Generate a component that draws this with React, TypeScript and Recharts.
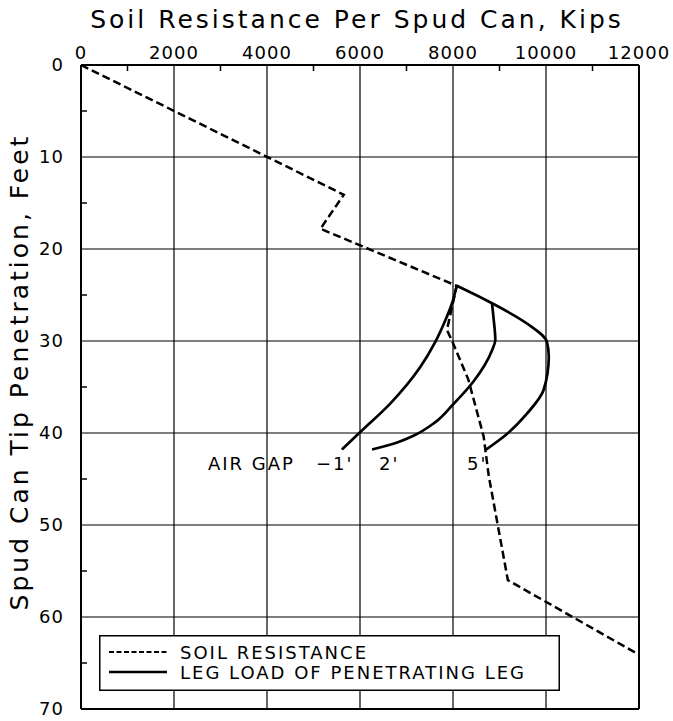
import React from 'react';
import { ScatterChart, Scatter, XAxis, YAxis, ReferenceLine, Legend } from 'recharts';

// ---- data ----
const kipTicks = [0, 2000, 4000, 6000, 8000, 10000, 12000];
const kipMinorTicks = [1000, 3000, 5000, 7000, 9000, 11000];
const depthTicks = [0, 10, 20, 30, 40, 50, 60, 70];
const depthMinorTicks = [5, 15, 25, 35, 45, 55, 65];

const soilKips = [0, 5650, 5150, 8080, 7870, 7990, 8330, 8660, 8770, 9180, 12000];
const soilDepth = [0, 14.1, 17.8, 24, 28.8, 30.1, 34.2, 40.4, 44.7, 56, 64.1];

const gap5Kips = [8080, 8840, 9590, 10020, 10060, 9950, 9590, 9160, 8710];
const gap5Depth = [24, 25.9, 28.1, 30.1, 31.7, 35.3, 37.9, 40.1, 41.8];

const gap2Kips = [8840, 8870, 8910, 8840, 8440, 8000, 7600, 7150, 6700, 6260];
const gap2Depth = [25.9, 27.4, 29.9, 31.0, 34.4, 36.9, 38.9, 40.3, 41.2, 41.8];

const gapM1Kips = [8080, 7980, 7840, 7620, 7300, 6650, 6005, 5610];
const gapM1Depth = [24, 25.9, 27.7, 30.1, 32.8, 36.8, 39.9, 41.8];

const seriesNames = ['SOIL RESISTANCE', 'LEG LOAD OF PENETRATING LEG'];
const gapLabels = ['AIR GAP', '\u22121\'', '2\'', '5\''];

const toPoints = (xs: number[], ys: number[]) => xs.map((x, i) => ({ x, y: ys[i] }));
const soilData = toPoints(soilKips, soilDepth);
const gap5Data = toPoints(gap5Kips, gap5Depth);
const gap2Data = toPoints(gap2Kips, gap2Depth);
const gapM1Data = toPoints(gapM1Kips, gapM1Depth);
const allKipTicks = [...kipTicks, ...kipMinorTicks].sort((a, b) => a - b);
const allDepthTicks = [...depthTicks, ...depthMinorTicks].sort((a, b) => a - b);

const FONT = '"DejaVu Sans", sans-serif';
const noShape = () => <g />;

const X_MARGIN = 6;
const Y_MARGIN = 17;
const MINOR = 6;

const XTick = (props: any) => {
  const { x, y, payload } = props;
  const v = payload.value;
  if (kipTicks.includes(v)) {
    return (
      <text x={x} y={y} textAnchor="middle" fontSize={18} fontFamily={FONT} letterSpacing={1} fill="#000">
        {v}
      </text>
    );
  }
  return <line x1={x} x2={x} y1={y + X_MARGIN} y2={y + X_MARGIN + MINOR} stroke="#000" strokeWidth={1.5} />;
};

const YTick = (props: any) => {
  const { x, y, payload } = props;
  const v = payload.value;
  if (depthTicks.includes(v)) {
    return (
      <text x={x} y={y} dy="0.36em" textAnchor="end" fontSize={18} fontFamily={FONT} letterSpacing={1} fill="#000">
        {v}
      </text>
    );
  }
  return <line x1={x + Y_MARGIN} x2={x + Y_MARGIN + MINOR} y1={y} y2={y} stroke="#000" strokeWidth={1.5} />;
};

const LegendBox = () => (
  <svg width={461} height={56} style={{ display: 'block' }}>
    <rect x={0.75} y={0.75} width={459.5} height={54.5} fill="#fff" stroke="#000" strokeWidth={1.5} />
    <line x1={10} x2={68} y1={17} y2={17} stroke="#000" strokeWidth={2} strokeDasharray="5 2.5" />
    <line x1={10} x2={68} y1={37} y2={37} stroke="#000" strokeWidth={2.5} />
    <text x={81} y={23.5} fontSize={18} fontFamily={FONT} letterSpacing={2} fill="#000">{seriesNames[0]}</text>
    <text x={81} y={43.5} fontSize={18} fontFamily={FONT} letterSpacing={2} fill="#000">{seriesNames[1]}</text>
  </svg>
);

export default function App() {
  return (
    <div style={{ position: 'absolute', left: 0, top: 0, width: 673, height: 721, background: '#fff' }}>
      <ScatterChart width={673} height={721} margin={{ top: 35, right: 34, bottom: 12, left: 21 }}>
        {kipTicks.map((v) => (
          <ReferenceLine key={'vx' + v} x={v} stroke="#000" strokeWidth={v === kipTicks[kipTicks.length - 1] ? 2 : 1.2} />
        ))}
        {depthTicks.map((v) => (
          <ReferenceLine key={'hy' + v} y={v} stroke="#000" strokeWidth={v === depthTicks[depthTicks.length - 1] ? 2 : 1.2} />
        ))}
        <XAxis
          type="number"
          dataKey="x"
          orientation="top"
          domain={[0, 12000]}
          ticks={allKipTicks}
          height={30}
          tickSize={0}
          tickMargin={X_MARGIN}
          tickLine={false}
          axisLine={{ stroke: '#000', strokeWidth: 2 }}
          tick={<XTick />}
          interval={0}
        />
        <YAxis
          type="number"
          dataKey="y"
          reversed
          domain={[0, 70]}
          ticks={allDepthTicks}
          width={60}
          tickSize={0}
          tickMargin={Y_MARGIN}
          tickLine={false}
          axisLine={{ stroke: '#000', strokeWidth: 2 }}
          tick={<YTick />}
          interval={0}
        />
        <Legend
          layout="vertical"
          align="center"
          verticalAlign="middle"
          wrapperStyle={{ left: 99, top: 635, width: 461, height: 56 }}
          content={() => <LegendBox />}
        />
        <Scatter
          name={seriesNames[0]}
          data={soilData}
          fill="#000"
          shape={noShape}
          line={{ stroke: '#000', strokeWidth: 2.5, strokeDasharray: '8 4' }}
          lineJointType="linear"
          isAnimationActive={false}
        />
        <Scatter
          name={seriesNames[1]}
          data={gap5Data}
          fill="#000"
          shape={noShape}
          line={{ stroke: '#000', strokeWidth: 2.7 }}
          lineJointType="monotoneY"
          isAnimationActive={false}
        />
        <Scatter
          name="gap2"
          data={gap2Data}
          fill="#000"
          shape={noShape}
          line={{ stroke: '#000', strokeWidth: 2.7 }}
          lineJointType="monotoneY"
          isAnimationActive={false}
          legendType="none"
        />
        <Scatter
          name="gapM1"
          data={gapM1Data}
          fill="#000"
          shape={noShape}
          line={{ stroke: '#000', strokeWidth: 2.7 }}
          lineJointType="monotoneY"
          isAnimationActive={false}
          legendType="none"
        />
      </ScatterChart>
      <svg width={673} height={721} style={{ position: 'absolute', left: 0, top: 0, pointerEvents: 'none' }}>
        <text x={357} y={28} textAnchor="middle" fontSize={25} fontFamily={FONT} letterSpacing={3} fill="#000">
          Soil Resistance Per Spud Can, Kips
        </text>
        <text transform="translate(28,372) rotate(-90)" textAnchor="middle" fontSize={25} fontFamily={FONT} letterSpacing={3} fill="#000">
          Spud Can Tip Penetration, Feet
        </text>
        <text x={208} y={470} fontSize={18} fontFamily={FONT} letterSpacing={2} fill="#000">{gapLabels[0]}</text>
        <text x={316} y={470} fontSize={18} fontFamily={FONT} letterSpacing={2} fill="#000">{gapLabels[1]}</text>
        <text x={379} y={470} fontSize={18} fontFamily={FONT} letterSpacing={2} fill="#000">{gapLabels[2]}</text>
        <text x={467} y={470} fontSize={18} fontFamily={FONT} letterSpacing={2} fill="#000">{gapLabels[3]}</text>
      </svg>
    </div>
  );
}
